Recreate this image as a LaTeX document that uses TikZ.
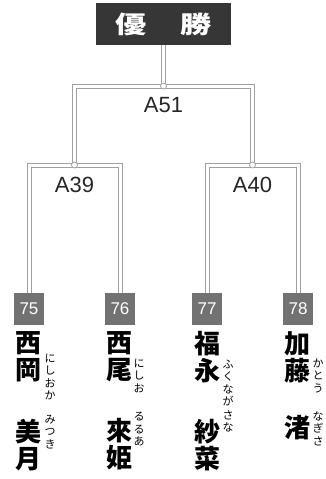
\documentclass[tikz,border=0pt]{standalone}
\usepackage{fontspec}
\setmainfont{Liberation Sans}
\newfontfamily\cjk{Noto Sans CJK JP}
\usetikzlibrary{positioning}

\definecolor{linegray}{HTML}{A0A0A0}
\definecolor{titlegray}{HTML}{363636}
\definecolor{seedgray}{HTML}{727272}

\tikzstyle{winner} = [rectangle, minimum width=135pt, minimum height=42pt, text centered, fill=titlegray, text=white, font=\cjk\bfseries\fontsize{24}{24}\selectfont]
\tikzstyle{seed} = [rectangle, minimum width=30pt, minimum height=32pt, inner sep=0pt, fill=seedgray, text=white, font=\fontsize{17}{17}\selectfont]
\tikzstyle{match} = [inner sep=0pt, text=black!85, font=\fontsize{22}{22}\selectfont]
\tikzstyle{junction} = [circle, minimum size=6pt, inner sep=0pt, draw=linegray, fill=white, line width=0.8pt]
\tikzstyle{link} = [draw=linegray, line width=1pt, double=white, double distance=3pt]
\tikzstyle{player} = [align=center, inner sep=0pt, font=\cjk\bfseries\fontsize{26}{27}\selectfont]
\tikzstyle{kana} = [align=center, inner sep=0pt, font=\cjk\fontsize{11}{12.5}\selectfont]

\begin{document}
\begin{tikzpicture}[x=1pt, y=-1pt]
			\useasboundingbox (0,0) rectangle (325,479);

			\node (title) [winner] at (163.5,24) {\scalebox{1.3}[1]{優\hspace{26pt}勝}};
			\node (n75) [seed] at (29,309) {75};
			\node (n76) [seed] at (120,309) {76};
			\node (n77) [seed] at (207,309) {77};
			\node (n78) [seed] at (298,309) {78};
			\coordinate (j51) at (163.5,86);
			\coordinate (j39) at (74.5,165);
			\coordinate (j40) at (252.5,165);

			\draw [link] (title) -- (j51);
			\draw [link] (j39) |- (j51) -| (j40);
			\draw [link] (n75) |- (j39) -| (n76);
			\draw [link] (n77) |- (j40) -| (n78);

			\node (d51) [junction] at (j51) {};
			\node (d39) [junction] at (j39) {};
			\node (d40) [junction] at (j40) {};

			\node (a51) [match] at (163.5,105) {A51};
			\node (a39) [match] at (74.5,185) {A39};
			\node (a40) [match] at (252.5,185) {A40};

			\node (sur75) [player] at (29,357) {西\\岡};
			\node (giv75) [player] at (29,445) {美\\月};
			\node (sur76) [player] at (119,357) {西\\尾};
			\node (giv76) [player] at (119,444) {來\\姫};
			\node (sur77) [player] at (207,357) {福\\永};
			\node (giv77) [player] at (207,445) {紗\\菜};
			\node (sur78) [player] at (297,357) {加\\藤};
			\node (giv78) [player] at (297,428) {渚};

			\node (ksur75) [kana] at (50,377) {に\\し\\お\\か};
			\node (kgiv75) [kana] at (50,432) {み\\つ\\き};
			\node (ksur76) [kana] at (139,375.5) {に\\し\\お};
			\node (kgiv76) [kana] at (139,429.5) {る\\る\\あ};
			\node (ksur77) [kana] at (228,383) {ふ\\く\\な\\が};
			\node (kgiv77) [kana] at (228,421.5) {さ\\な};
			\node (ksur78) [kana] at (318,375.5) {か\\と\\う};
			\node (kgiv78) [kana] at (318,428.5) {な\\ぎ\\さ};

		\end{tikzpicture}
\end{document}
